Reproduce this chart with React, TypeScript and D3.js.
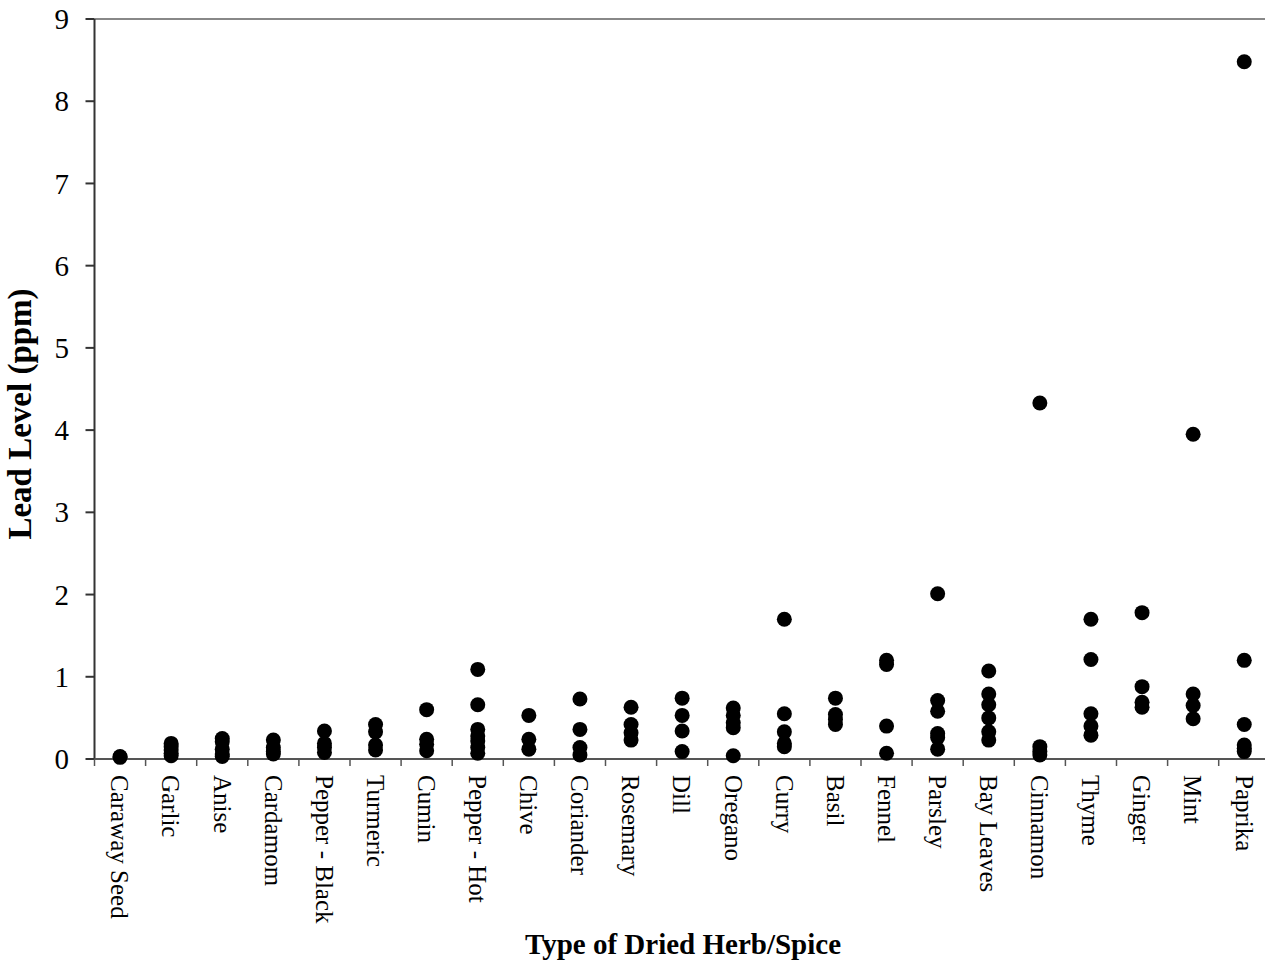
import React from "react";
import * as d3 from "d3";

const categories = [
  "Caraway Seed", "Garlic", "Anise", "Cardamom", "Pepper - Black", "Turmeric",
  "Cumin", "Pepper - Hot", "Chive", "Coriander", "Rosemary", "Dill", "Oregano",
  "Curry", "Basil", "Fennel", "Parsley", "Bay Leaves", "Cinnamon", "Thyme",
  "Ginger", "Mint", "Paprika",
];

const caraway = [0.03, 0.02];
const garlic = [0.19, 0.15, 0.11, 0.07, 0.04];
const anise = [0.25, 0.21, 0.12, 0.06, 0.03];
const cardamom = [0.23, 0.14, 0.09, 0.06];
const pepperBlack = [0.34, 0.19, 0.14, 0.08];
const turmeric = [0.42, 0.33, 0.17, 0.11];
const cumin = [0.6, 0.24, 0.18, 0.1];
const pepperHot = [1.09, 0.66, 0.36, 0.28, 0.22, 0.14, 0.07];
const chive = [0.53, 0.24, 0.12];
const coriander = [0.73, 0.36, 0.14, 0.05];
const rosemary = [0.63, 0.42, 0.32, 0.23];
const dill = [0.74, 0.53, 0.34, 0.09];
const oregano = [0.62, 0.53, 0.44, 0.38, 0.04];
const curry = [1.7, 0.55, 0.33, 0.19, 0.15];
const basil = [0.74, 0.54, 0.48, 0.42];
const fennel = [1.2, 1.15, 0.4, 0.07];
const parsley = [2.01, 0.71, 0.58, 0.31, 0.26, 0.12];
const bayLeaves = [1.07, 0.79, 0.66, 0.5, 0.33, 0.23];
const cinnamon = [4.33, 0.15, 0.09, 0.05];
const thyme = [1.7, 1.21, 0.55, 0.4, 0.29];
const ginger = [1.78, 0.88, 0.69, 0.63];
const mint = [3.95, 0.79, 0.65, 0.49];
const paprika = [8.48, 1.2, 0.42, 0.17, 0.13, 0.09];

const seriesValues = [
  caraway, garlic, anise, cardamom, pepperBlack, turmeric, cumin, pepperHot,
  chive, coriander, rosemary, dill, oregano, curry, basil, fennel, parsley,
  bayLeaves, cinnamon, thyme, ginger, mint, paprika,
];

const yTicks = [0, 1, 2, 3, 4, 5, 6, 7, 8, 9];

export default function App() {
  const W = 1265;
  const H = 964;
  const left = 94.5;
  const band = 51.1;
  const right = left + band * categories.length;
  const top = 19;
  const bottom = 759;

  const x = d3.scaleBand<string>().domain(categories).range([left, right]).padding(0);
  const y = d3.scaleLinear().domain([0, 9]).range([bottom, top]);

  const serif = "'Liberation Serif', 'Times New Roman', serif";
  const points: { c: string; v: number }[] = [];
  categories.forEach((c, i) => seriesValues[i].forEach((v) => points.push({ c, v })));

  return (
    <svg
      width={W}
      height={H}
      style={{ position: "absolute", left: 0, top: 0, background: "#fff" }}
      fontFamily={serif}
    >
      <rect x={0} y={0} width={W} height={H} fill="#fff" />
      <line x1={left} x2={right} y1={top} y2={top} stroke="#888" strokeWidth={2} />
      <line x1={left} x2={left} y1={top} y2={bottom} stroke="#333" strokeWidth={2} />
      {yTicks.map((t) => (
        <g key={t}>
          <line x1={left - 9} x2={left} y1={y(t)} y2={y(t)} stroke="#333" strokeWidth={2} />
          <text x={69} y={y(t)} dy="0.35em" textAnchor="end" fontSize={29} fill="#000">
            {t}
          </text>
        </g>
      ))}
      <line x1={left} x2={right} y1={bottom} y2={bottom} stroke="#555" strokeWidth={2} />
      {categories.map((c) => (
        <line
          key={"t" + c}
          x1={x(c) as number}
          x2={x(c) as number}
          y1={bottom}
          y2={bottom + 7}
          stroke="#555"
          strokeWidth={1.5}
        />
      ))}
      {categories.map((c) => {
        const cx = (x(c) as number) + x.bandwidth() / 2;
        return (
          <text
            key={"l" + c}
            transform={`translate(${cx},${bottom + 16}) rotate(90)`}
            dy="0.35em"
            textAnchor="start"
            fontSize={25}
            fill="#000"
          >
            {c}
          </text>
        );
      })}
      {points.map((p, i) => (
        <circle
          key={i}
          cx={(x(p.c) as number) + x.bandwidth() / 2}
          cy={y(p.v)}
          r={7.5}
          fill="#000"
        />
      ))}
      <text
        transform={`translate(31,414) rotate(-90)`}
        textAnchor="middle"
        fontSize={33}
        fontWeight="bold"
        fill="#000"
      >
        Lead Level (ppm)
      </text>
      <text x={683} y={954} textAnchor="middle" fontSize={29} fontWeight="bold" fill="#000">
        Type of Dried Herb/Spice
      </text>
    </svg>
  );
}
